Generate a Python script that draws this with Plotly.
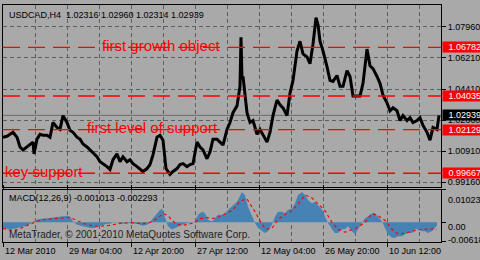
import plotly.graph_objects as go

# ---------------- data ----------------
price_bar = [0, 4, 7, 10, 14, 17, 20, 24, 27, 30, 31, 34, 37, 40, 44, 47, 50, 54, 57, 60,
             64, 67, 70, 74, 77, 80, 84, 87, 90, 94, 97, 100, 104, 107, 110, 114, 117, 120, 124, 127,
             130, 134, 137, 140, 144, 147, 150, 154, 157, 160, 163, 167, 170, 174, 177, 180, 184, 187, 190, 194,
             197, 200, 204, 207, 210, 214, 217, 220, 224, 227, 230, 234, 237, 238, 239, 240, 244, 247, 250, 254,
             257, 260, 264, 267, 270, 274, 277, 280, 284, 287, 290, 294, 297, 300, 304, 307, 310, 313, 315, 317,
             320, 324, 327, 330, 334, 337, 340, 344, 347, 350, 354, 357, 360, 364, 367, 370, 374, 377, 380, 384,
             387, 390, 394, 397, 400, 404, 407, 410, 414, 417, 420, 424, 427, 430, 434, 436]
price_close = [1.01702, 1.01757, 1.01868, 1.01979, 1.01702, 1.01148, 1.00982, 1.01148, 1.01314, 1.01425,
               1.00760, 1.01591, 1.01868, 1.01813, 1.01813, 1.01702, 1.02533, 1.02256, 1.02145, 1.02921,
               1.02533, 1.02090, 1.01979, 1.01702, 1.01591, 1.01314, 1.01148, 1.00982, 1.00871, 1.00594,
               1.00317, 1.00206, 1.00040, 0.99874, 1.00428, 1.00760, 1.00317, 1.00594, 1.00317, 1.00428,
               1.00206, 1.00040, 0.99874, 0.99763, 0.99929, 1.00151, 1.00705, 1.01702, 1.01813, 1.01536,
               0.99929, 0.99597, 0.99763, 0.99929, 1.00151, 1.00206, 1.00040, 1.00151, 1.00206, 1.01425,
               1.01148, 1.00982, 1.00483, 1.00871, 1.01591, 1.01591, 1.01425, 1.01259, 1.02145, 1.02533,
               1.03087, 1.03475, 1.04583, 1.07353, 1.05026, 1.05137, 1.03087, 1.02533, 1.02644, 1.01868,
               1.02145, 1.01813, 1.01425, 1.01979, 1.02921, 1.03807, 1.03530, 1.03364, 1.02921, 1.04195,
               1.04915, 1.06577, 1.07131, 1.06411, 1.06245, 1.05857, 1.06965, 1.08461, 1.08073, 1.07131,
               1.06577, 1.05691, 1.04915, 1.04860, 1.05192, 1.04583, 1.04583, 1.05469, 1.05137, 1.04029,
               1.04029, 1.04029, 1.04749, 1.06688, 1.05746, 1.05580, 1.05137, 1.04749, 1.04084, 1.03641,
               1.03197, 1.03364, 1.03197, 1.02644, 1.02921, 1.02644, 1.02810, 1.02533, 1.02644, 1.02810,
               1.02367, 1.01979, 1.01536, 1.02256, 1.02145, 1.02939]

macd_bar = [0, 4, 7, 10, 14, 17, 20, 24, 27, 30, 34, 37, 40, 44, 47, 50, 54, 57, 60, 64,
            67, 70, 74, 77, 80, 84, 87, 90, 94, 97, 100, 104, 107, 110, 114, 117, 120, 124, 127, 130,
            134, 137, 140, 144, 147, 150, 154, 157, 159, 162, 165, 169, 172, 175, 179, 182, 185, 189, 192, 195,
            199, 202, 205, 209, 212, 215, 219, 222, 225, 229, 234, 239, 242, 245, 249, 252, 255, 259, 262, 265,
            269, 272, 275, 279, 282, 285, 289, 292, 295, 299, 302, 305, 309, 312, 315, 319, 322, 325, 329, 332,
            335, 339, 342, 345, 349, 352, 355, 359, 362, 365, 369, 372, 375, 379, 382, 385, 389, 392, 395, 399,
            402, 405, 409, 412, 415, 419, 422, 425, 429, 432, 434]
macd_main = [-0.00179, -0.00210, -0.00229, -0.00210, -0.00179, -0.00179, -0.00149, -0.00106, -0.00044, 0.00026,
             0.00078, 0.00109, 0.00109, 0.00127, 0.00127, 0.00149, 0.00158, 0.00179, 0.00201, 0.00201,
             0.00179, 0.00026, -0.00075, -0.00106, -0.00127, -0.00149, -0.00179, -0.00179, -0.00158, -0.00106,
             -0.00075, -0.00044, -0.00044, -0.00005, -0.00005, -0.00026, -0.00044, -0.00026, -0.00026, -0.00026,
             -0.00044, -0.00075, -0.00106, -0.00075, -0.00005, 0.00127, 0.00281, 0.00385, 0.00434, 0.00179,
             -0.00127, -0.00229, -0.00179, -0.00127, -0.00075, -0.00044, -0.00026, -0.00005, 0.00026, 0.00232,
             0.00333, 0.00281, 0.00078, 0.00026, 0.00127, 0.00232, 0.00232, 0.00281, 0.00385, 0.00486,
             0.00640, 0.00946, 0.00854, 0.00486, 0.00179, -0.00026, -0.00179, -0.00281, -0.00333, -0.00281,
             -0.00066, 0.00179, 0.00333, 0.00333, 0.00281, 0.00394, 0.00434, 0.00587, 0.00854, 0.00946,
             0.00854, 0.00701, 0.00587, 0.00640, 0.00548, 0.00394, 0.00179, -0.00026, -0.00219, -0.00333,
             -0.00333, -0.00219, -0.00219, -0.00127, -0.00281, -0.00373, -0.00219, -0.00026, 0.00127, 0.00179,
             0.00281, 0.00281, 0.00179, 0.00026, -0.00179, -0.00373, -0.00486, -0.00486, -0.00434, -0.00434,
             -0.00373, -0.00333, -0.00333, -0.00219, -0.00219, -0.00281, -0.00281, -0.00333, -0.00281, -0.00179,
             -0.00101]

signal_bar = [0, 7, 14, 24, 34, 40, 50, 60, 67, 74, 80, 90, 97, 107, 117, 130, 140, 147, 154, 160,
              165, 169, 174, 179, 185, 192, 197, 204, 210, 217, 225, 230, 237, 244, 247, 252, 259, 263, 269, 275,
              282, 289, 295, 302, 309, 315, 322, 329, 335, 342, 349, 355, 362, 369, 375, 382, 389, 395, 402, 409,
              415, 422, 429, 434]
signal_vals = [-0.00189, -0.00250, -0.00235, -0.00097, 0.00026, 0.00087, 0.00118, 0.00149, 0.00149, 0.00057,
               -0.00035, -0.00118, -0.00127, -0.00097, -0.00035, -0.00014, -0.00044, -0.00005, 0.00118, 0.00271,
               0.00210, 0.00057, -0.00066, -0.00097, -0.00066, -0.00005, 0.00118, 0.00149, 0.00118, 0.00179,
               0.00302, 0.00385, 0.00670, 0.00731, 0.00578, 0.00333, -0.00066, -0.00219, -0.00189, 0.00087,
               0.00241, 0.00363, 0.00578, 0.00854, 0.00762, 0.00578, 0.00363, -0.00005, -0.00219, -0.00311,
               -0.00219, -0.00158, -0.00005, 0.00271, 0.00210, 0.00057, -0.00219, -0.00373, -0.00342, -0.00281,
               -0.00235, -0.00219, -0.00204, -0.00229]

x_tick_bars = [0.5, 64.5, 128.5, 192.5, 256.5, 320.5, 384.5]
x_tick_labels = ["12 Mar 2010", "29 Mar 04:00", "12 Apr 20:00", "27 Apr 12:00",
                 "12 May 04:00", "26 May 20:00", "10 Jun 12:00"]
x_minor_bars = [32.5, 96.5, 160.5, 224.5, 288.5, 352.5, 416.5]

y_tick_vals = [0.99160, 1.00910, 1.02660, 1.04410, 1.06210, 1.07960]
y_tick_labels = ["0.99160", "1.00910", "1.02660", "1.04410", "1.06210", "1.07960"]

level_vals = [1.06782, 1.04035, 1.02129, 0.99667]
level_labels = ["1.06782", "1.04035", "1.02129", "0.99667"]

note_texts = ["first growth object", "first level of support", "key support"]
note_levels = [1.06782, 1.02129, 0.99667]
note_bars = [97, 82, 0]

macd_label_vals = ["0.01023", "0.00", "-0.00618"]

title_text = "USDCAD,H4  1.02316 1.02960 1.02314 1.02939"
macd_title = "MACD(12,26,9) -0.001013 -0.002293"
copyright_text = "MetaTrader, \u00a9 2001-2010 MetaQuotes Software Corp."

# ---------------- layout geometry ----------------
W, H = 480, 260
ML, MR, MT, MB = 3, 39, 0, 18
PH = H - MT - MB


def py2paper(py):
    return (H - MB - py) / PH


BG = "#A9A9A9"
GRID = "#5E5E5E"
FONT = "Liberation Sans, Arial, sans-serif"

fig = go.Figure()
fig.add_trace(go.Scatter(x=price_bar, y=price_close, mode="lines",
                         line=dict(color="black", width=3), xaxis="x", yaxis="y",
                         hoverinfo="skip", showlegend=False))
fig.add_trace(go.Scatter(x=macd_bar, y=macd_main, mode="lines", fill="tozeroy",
                         fillcolor="#4682B4", line=dict(color="#4682B4", width=0),
                         xaxis="x", yaxis="y2", hoverinfo="skip", showlegend=False))
fig.add_trace(go.Scatter(x=signal_bar, y=signal_vals, mode="lines",
                         line=dict(color="#FF0000", width=1.2, dash="3px,3px"),
                         xaxis="x", yaxis="y2", hoverinfo="skip", showlegend=False))

fig.update_layout(
    width=W, height=H,
    margin=dict(l=ML, r=MR, t=MT, b=MB, pad=0),
    paper_bgcolor=BG, plot_bgcolor=BG,
    showlegend=False,
    font=dict(family=FONT, size=9, color="black"),
    xaxis=dict(
        domain=[0, 1], anchor="y2", range=[0, 438],
        tickmode="array", tickvals=x_tick_bars, showticklabels=False,
        ticks="outside", ticklen=4, tickcolor="black",
        showgrid=True, gridcolor=GRID, griddash="4px,3px", gridwidth=1,
        minor=dict(tickmode="array", tickvals=x_minor_bars, showgrid=True,
                   gridcolor=GRID, griddash="4px,3px", gridwidth=1, ticks=""),
        showline=True, linecolor="black", linewidth=1, mirror="all",
        zeroline=False, fixedrange=True,
    ),
    yaxis=dict(
        domain=[py2paper(185.5), 1], anchor="x", side="right",
        range=[0.98904, 1.09181],
        tickmode="array", tickvals=y_tick_vals, ticktext=y_tick_labels,
        ticks="outside", ticklen=4, tickcolor="black",
        tickfont=dict(family=FONT, size=9, color="black"),
        showgrid=True, gridcolor=GRID, griddash="4px,3px", gridwidth=1,
        showline=True, linecolor="black", linewidth=1, mirror=True,
        zeroline=False, fixedrange=True,
    ),
    yaxis2=dict(
        domain=[0, py2paper(188.5)], anchor="x", side="right",
        range=[-0.00618, 0.01023],
        tickmode="array", tickvals=[0.01023, 0.0, -0.00618], showticklabels=False,
        ticks="outside", ticklen=4, tickcolor="black",
        showgrid=False, showline=True, linecolor="black", linewidth=1, mirror=True,
        zeroline=False, fixedrange=True,
    ),
)

shapes = []
# bid line (last close)
shapes.append(dict(type="line", xref="x", yref="y", x0=0, x1=438,
                   y0=price_close[-1], y1=price_close[-1],
                   line=dict(color="#6A6A6A", width=1), layer="below"))
for lv in level_vals:
    shapes.append(dict(type="line", xref="x", yref="y", x0=0, x1=438, y0=lv, y1=lv,
                       line=dict(color="#FF0000", width=1.4, dash="17px,8px"), layer="above"))
fig.update_layout(shapes=shapes)

ann = []
# price level boxes
for lv, lab in zip(level_vals, level_labels):
    ann.append(dict(xref="paper", yref="y", x=1, y=lv, xanchor="left", yanchor="middle",
                    xshift=1, text=lab, showarrow=False, bgcolor="#FF0000",
                    font=dict(family=FONT, size=9, color="white"),
                    width=38, height=10, align="right", borderpad=0))
ann.append(dict(xref="paper", yref="y", x=1, y=price_close[-1], xanchor="left", yanchor="middle",
                xshift=1, text="1.02939", showarrow=False, bgcolor="black",
                font=dict(family=FONT, size=9, color="white"),
                width=38, height=10, align="right", borderpad=0))
# red level notes
for t, lv, b in zip(note_texts, note_levels, note_bars):
    ann.append(dict(xref="x", yref="y", x=b, y=lv, xanchor="left", yanchor="middle",
                    text=t, showarrow=False, yshift=2,
                    font=dict(family=FONT, size=15, color="#FF0000")))
# x tick labels
for b, t in zip(x_tick_bars, x_tick_labels):
    ann.append(dict(xref="x", yref="paper", x=b, y=py2paper(251), xanchor="left", yanchor="middle",
                    xshift=-1, text=t, showarrow=False,
                    font=dict(family=FONT, size=9, color="black")))
# MACD axis labels
for t, pyv in zip(macd_label_vals, [199, 227, 240]):
    ann.append(dict(xref="paper", yref="paper", x=1, y=py2paper(pyv), xanchor="left", yanchor="middle",
                    xshift=5, text=t, showarrow=False,
                    font=dict(family=FONT, size=9, color="black")))
# titles
ann.append(dict(xref="paper", yref="paper", x=0, y=py2paper(10), xanchor="left", yanchor="middle",
                xshift=4, text=title_text, showarrow=False,
                font=dict(family=FONT, size=9, color="black")))
ann.append(dict(xref="paper", yref="paper", x=0, y=py2paper(197), xanchor="left", yanchor="middle",
                xshift=4, text=macd_title, showarrow=False,
                font=dict(family=FONT, size=9, color="black")))
ann.append(dict(xref="paper", yref="paper", x=0, y=py2paper(234), xanchor="left", yanchor="middle",
                xshift=4, text=copyright_text, showarrow=False,
                font=dict(family=FONT, size=10, color="#222222")))
fig.update_layout(annotations=ann)

fig.write_html("out.html", config={"displayModeBar": False})
